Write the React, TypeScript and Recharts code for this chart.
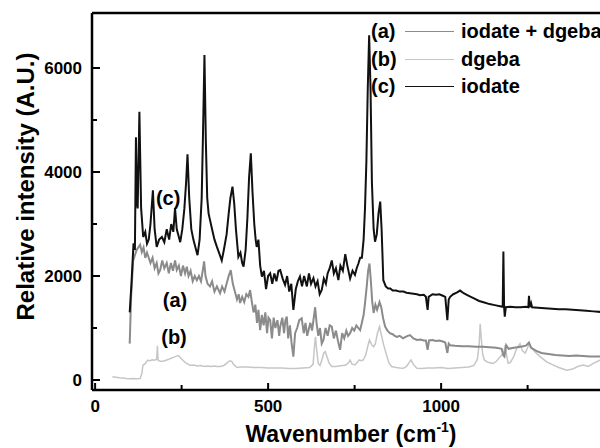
import { LineChart, Line, XAxis, YAxis, ReferenceLine, ReferenceDot, Legend } from "recharts";

type Pt = [number, number];

// (c) iodate, black
const iodate: Pt[] = [
  [100, 1300], [105, 1850], [111, 2630], [115, 2500], [118, 4670], [121, 3400], [123, 3300],
  [128, 5160], [133, 3300], [139, 2750], [145, 2850], [150, 2620], [155, 2700], [160, 3000],
  [167, 3650], [172, 2900], [178, 2560], [185, 2700], [193, 2750], [200, 2650], [207, 2900],
  [214, 2700], [220, 3000], [226, 2850], [231, 3300], [236, 2900], [242, 2750], [246, 2650],
  [252, 2900], [258, 3300], [263, 3800], [267, 4340], [272, 3500], [278, 2900], [284, 2700],
  [290, 2550], [296, 2400], [302, 2700], [308, 3500], [312, 4800], [316, 6250], [320, 4600],
  [324, 3500], [328, 3200], [332, 3080], [338, 2900], [345, 2700], [352, 2560], [358, 2450],
  [366, 2300], [372, 2500], [380, 2800], [386, 3200], [391, 3500], [397, 3720], [402, 3400],
  [407, 2900], [414, 2370], [420, 2450], [425, 2250], [429, 2180], [435, 2500], [440, 3100],
  [445, 3900], [450, 4360], [455, 3600], [460, 3000], [464, 2700], [467, 2560], [472, 2700],
  [477, 2200], [482, 1990], [488, 2100], [494, 1750], [500, 2000], [506, 2050], [512, 1850],
  [518, 2050], [524, 1900], [530, 2100], [535, 2115], [542, 1950], [549, 1830], [555, 2000],
  [561, 1700], [567, 1850], [573, 1350], [580, 1750], [586, 1900], [592, 1990], [598, 1800],
  [604, 2000], [612, 1800], [618, 2050], [624, 1850], [631, 1960], [637, 1800], [643, 1900],
  [649, 1650], [655, 1730], [661, 1950], [667, 1850], [672, 2050], [678, 2150], [684, 2300],
  [690, 2050], [696, 2150], [703, 1920], [709, 2200], [716, 2100], [723, 2420], [729, 2200],
  [737, 1950], [744, 2100], [751, 2020], [756, 2150], [761, 2240], [766, 2350], [771, 2350],
  [776, 2700], [780, 3300], [784, 4200], [788, 5600], [792, 6630], [796, 5600], [800, 3800],
  [805, 2900], [809, 2660], [814, 2800], [819, 3200], [824, 3430], [828, 2900], [833, 1920],
  [840, 1800], [847, 1760], [853, 1760], [860, 1720], [870, 1720], [880, 1700], [891, 1700],
  [900, 1680], [910, 1670], [920, 1660], [930, 1650], [939, 1630], [950, 1640], [956, 1600],
  [961, 1350], [964, 1600], [975, 1650], [985, 1640], [995, 1650], [1005, 1620], [1012, 1600],
  [1018, 1150], [1022, 1550], [1026, 1600], [1035, 1650], [1045, 1680], [1055, 1720],
  [1065, 1670], [1080, 1620], [1095, 1570], [1110, 1520], [1125, 1490], [1140, 1460],
  [1155, 1440], [1170, 1420], [1178, 1410], [1180, 2470], [1182, 1410], [1184, 1220],
  [1187, 1400], [1200, 1410], [1215, 1400], [1230, 1400], [1245, 1410], [1252, 1400],
  [1254, 1620], [1256, 1400], [1260, 1480], [1263, 1400], [1280, 1390], [1300, 1380],
  [1320, 1370], [1340, 1360], [1360, 1360], [1380, 1350], [1400, 1340], [1420, 1330],
  [1440, 1320], [1460, 1310], [1500, 1300],
];

// (a) iodate + dgeba, mid grey
const iodateDgeba: Pt[] = [
  [100, 700], [104, 1600], [110, 2300], [120, 2500], [130, 2600], [135, 2460], [140, 2550],
  [145, 2350], [150, 2450], [154, 2370], [160, 2250], [166, 2350], [172, 2150], [178, 2250],
  [183, 2050], [188, 2115], [194, 2300], [200, 2150], [207, 2250], [213, 2050], [219, 2250],
  [225, 2100], [231, 2300], [236, 2115], [242, 2200], [248, 2000], [254, 2200], [260, 2050],
  [265, 2180], [270, 2000], [276, 2100], [282, 1900], [288, 2000], [294, 1920], [300, 2000],
  [306, 1900], [311, 2100], [315, 2280], [319, 2000], [325, 1850], [332, 1800], [338, 1900],
  [345, 1700], [352, 1800], [361, 1670], [367, 1800], [374, 1700], [380, 1850], [386, 2000],
  [392, 2115], [398, 1850], [404, 1700], [410, 1550], [415, 1650], [419, 1480], [425, 1600],
  [431, 1500], [437, 1650], [443, 1600], [448, 1730], [453, 1500], [458, 1300], [463, 1450],
  [468, 1100], [472, 1350], [477, 960], [482, 1250], [487, 1050], [492, 1300], [497, 900],
  [501, 1200], [506, 1150], [511, 800], [516, 1200], [521, 1000], [527, 1150], [532, 850],
  [535, 1025], [541, 1200], [546, 900], [550, 1150], [554, 1220], [558, 800], [563, 1050],
  [568, 700], [573, 450], [578, 900], [584, 1000], [590, 1150], [597, 1185], [603, 900],
  [608, 1100], [613, 850], [617, 960], [622, 1100], [627, 950], [631, 1150], [636, 1400],
  [640, 1100], [645, 850], [650, 1000], [655, 700], [660, 770], [666, 1000], [672, 850],
  [678, 1050], [684, 1025], [690, 800], [696, 950], [702, 750], [708, 580], [714, 900],
  [720, 800], [726, 950], [731, 850], [737, 900], [743, 1000], [749, 950], [755, 1050],
  [761, 1000], [766, 960], [771, 1100], [776, 1250], [780, 1475], [785, 1800], [789, 2100],
  [793, 2240], [797, 1900], [801, 1500], [805, 1290], [810, 1450], [815, 1350], [822, 1500],
  [827, 1400], [832, 1200], [838, 1030], [845, 950], [852, 900], [860, 880], [866, 850],
  [872, 830], [880, 850], [890, 800], [900, 840], [910, 865], [920, 800], [930, 770],
  [940, 780], [950, 760], [956, 760], [961, 580], [965, 760], [975, 770], [985, 750],
  [995, 760], [1005, 740], [1012, 720], [1018, 520], [1022, 700], [1026, 670], [1040, 660],
  [1060, 650], [1080, 650], [1100, 640], [1122, 640], [1140, 630], [1160, 620], [1175, 600],
  [1180, 470], [1183, 450], [1188, 670], [1195, 600], [1210, 620], [1230, 640], [1245, 660],
  [1254, 720], [1260, 620], [1275, 560], [1290, 520], [1310, 500], [1330, 480], [1350, 470],
  [1370, 460], [1390, 470], [1410, 460], [1430, 450], [1460, 450], [1500, 440],
];

// (b) dgeba, light grey
const dgeba: Pt[] = [
  [50, 65], [60, 55], [70, 45], [80, 40], [90, 30], [100, 25], [110, 30], [120, 25], [130, 30],
  [135, 120], [138, 280], [145, 320], [152, 380], [159, 370], [165, 390], [172, 380],
  [178, 400], [180, 660], [182, 380], [188, 360], [197, 360], [205, 380], [213, 400],
  [220, 420], [228, 440], [235, 460], [241, 470], [248, 420], [255, 370], [262, 330],
  [270, 300], [275, 280], [285, 290], [295, 270], [305, 280], [315, 260], [325, 270],
  [335, 260], [345, 270], [352, 260], [362, 260], [372, 280], [380, 320], [385, 350],
  [390, 370], [395, 360], [400, 300], [410, 240], [420, 250], [440, 250], [460, 240],
  [480, 240], [500, 230], [520, 230], [540, 230], [560, 220], [580, 220], [600, 230],
  [620, 240], [630, 300], [634, 650], [637, 830], [640, 600], [645, 320], [650, 280],
  [656, 400], [661, 520], [665, 545], [670, 450], [676, 330], [684, 260], [695, 260],
  [705, 270], [715, 280], [725, 290], [732, 330], [737, 385], [742, 310], [751, 290],
  [758, 340], [763, 385], [768, 370], [775, 385], [782, 480], [788, 650], [793, 770],
  [799, 680], [805, 640], [810, 700], [816, 900], [822, 1025], [828, 850], [833, 700],
  [838, 580], [845, 420], [850, 320], [857, 260], [870, 240], [880, 230], [891, 225],
  [900, 260], [907, 330], [913, 385], [920, 300], [930, 225], [945, 220], [960, 230],
  [980, 230], [1000, 240], [1020, 220], [1040, 230], [1060, 240], [1080, 250], [1095, 280],
  [1105, 400], [1110, 700], [1113, 1080], [1116, 800], [1120, 500], [1125, 385], [1135, 340],
  [1150, 320], [1160, 360], [1171, 450], [1177, 500], [1182, 560], [1185, 670], [1190, 450],
  [1194, 320], [1200, 340], [1210, 450], [1218, 600], [1228, 700], [1235, 560], [1243, 520],
  [1250, 620], [1254, 700], [1260, 640], [1270, 550], [1286, 450], [1305, 350], [1320, 300],
  [1340, 240], [1363, 190], [1380, 210], [1395, 260], [1411, 290], [1425, 260], [1440, 320],
  [1460, 385], [1500, 400],
];

const xTicks = [0, 250, 500, 750, 1000, 1250];
const yTicks = [0, 1000, 2000, 3000, 4000, 5000, 6000];

// where the (a)/(b)/(c) tags sit, in data units
const curveTags = [
  { tag: "(c)", wn: 211, value: 3500 },
  { tag: "(a)", wn: 231, value: 1540 },
  { tag: "(b)", wn: 228, value: 830 },
];

const X_DOMAIN: [number, number] = [-9, 1517];
const Y_DOMAIN: [number, number] = [-192, 7058];

const FONT = '"Liberation Sans", Arial, Helvetica, sans-serif';

const SERIES = [
  { tag: "(a)", name: "iodate + dgeba", color: "#8b8b8b", width: 2, pts: iodateDgeba },
  { tag: "(b)", name: "dgeba", color: "#c6c6c6", width: 1.5, pts: dgeba },
  { tag: "(c)", name: "iodate", color: "#111111", width: 2, pts: iodate },
];

const toRows = (pts: Pt[]) => pts.map(([wn, v]) => ({ wn, v }));

function XTick({ x, y, payload }: any) {
  const major = payload.value % 500 === 0;
  return (
    <g>
      <line x1={x} x2={x} y1={y} y2={y - (major ? 7 : 5)} stroke="#000" strokeWidth={2} />
      {major && (
        <text x={x} y={y + 22} textAnchor="middle" fontFamily={FONT} fontWeight={700} fontSize={17} fill="#000">
          {payload.value}
        </text>
      )}
    </g>
  );
}

function YTick({ x, y, payload }: any) {
  const major = payload.value % 2000 === 0;
  return (
    <g>
      <line x1={x} x2={x + (major ? 8 : 5)} y1={y} y2={y} stroke="#000" strokeWidth={2} />
      {major && (
        <text x={x - 10} y={y + 6} textAnchor="end" fontFamily={FONT} fontWeight={700} fontSize={17} fill="#000">
          {payload.value}
        </text>
      )}
    </g>
  );
}

function XTitle({ viewBox }: any) {
  const cx = viewBox.x + 259;
  const by = viewBox.y + 52;
  return (
    <text x={cx} y={by} textAnchor="middle" fontFamily={FONT} fontWeight={700} fontSize={23} fill="#000">
      Wavenumber (cm
      <tspan dy={-10} fontSize={14}>-1</tspan>
      <tspan dy={10}>)</tspan>
    </text>
  );
}

function YTitle({ viewBox }: any) {
  const cx = viewBox.x + 25;
  const cy = viewBox.y + viewBox.height / 2 - 15;
  return (
    <text
      x={cx}
      y={cy}
      transform={`rotate(-90 ${cx} ${cy})`}
      textAnchor="middle"
      dominantBaseline="central"
      fontFamily={FONT}
      fontWeight={700}
      fontSize={24}
      fill="#000"
    >
      Relative intensity (A.U.)
    </text>
  );
}

function SeriesKey() {
  return (
    <div style={{ fontFamily: FONT, fontWeight: 700, fontSize: 20, color: "#000", whiteSpace: "nowrap" }}>
      {SERIES.map((s) => (
        <div key={s.tag} style={{ display: "flex", alignItems: "center", height: 27.5 }}>
          <span style={{ width: 34 }}>{s.tag}</span>
          <span style={{ width: 49, height: 0, borderTop: `1.5px solid ${s.color}`, marginRight: 7 }} />
          <span>{s.name}</span>
        </div>
      ))}
    </div>
  );
}

export default function App() {
  return (
    <div style={{ position: "absolute", left: 0, top: 0, width: 600, height: 448, overflow: "hidden", background: "#fff" }}>
      <LineChart width={640} height={448} margin={{ top: 13, right: 20, bottom: 0, left: 0 }}>
        <XAxis
          dataKey="wn"
          type="number"
          domain={X_DOMAIN}
          allowDataOverflow
          ticks={xTicks}
          interval={0}
          height={58}
          tickSize={0}
          tickMargin={0}
          tickLine={false}
          tick={<XTick />}
          axisLine={{ stroke: "#000", strokeWidth: 2.5 }}
          label={<XTitle />}
        />
        <YAxis
          type="number"
          domain={Y_DOMAIN}
          allowDataOverflow
          ticks={yTicks}
          interval={0}
          width={92}
          tickSize={0}
          tickMargin={0}
          tickLine={false}
          tick={<YTick />}
          axisLine={{ stroke: "#000", strokeWidth: 2.5 }}
          label={<YTitle />}
        />
        <ReferenceLine y={Y_DOMAIN[1]} stroke="#000" strokeWidth={2.5} />
        {[SERIES[1], SERIES[0], SERIES[2]].map((s) => (
          <Line
            key={s.tag}
            data={toRows(s.pts)}
            dataKey="v"
            type="linear"
            stroke={s.color}
            strokeWidth={s.width}
            dot={false}
            activeDot={false}
            isAnimationActive={false}
          />
        ))}
        {curveTags.map((t) => (
          <ReferenceDot
            key={t.tag}
            x={t.wn}
            y={t.value}
            r={0}
            shape={(p: any) => (
              <text
                x={p.cx}
                y={p.cy}
                textAnchor="middle"
                dominantBaseline="central"
                fontFamily={FONT}
                fontWeight={700}
                fontSize={20}
                fill="#000"
              >
                {t.tag}
              </text>
            )}
          />
        ))}
        <Legend
          layout="vertical"
          align="center"
          verticalAlign="middle"
          content={() => <SeriesKey />}
          wrapperStyle={{ left: 371, top: 18, width: 260 }}
        />
      </LineChart>
    </div>
  );
}
